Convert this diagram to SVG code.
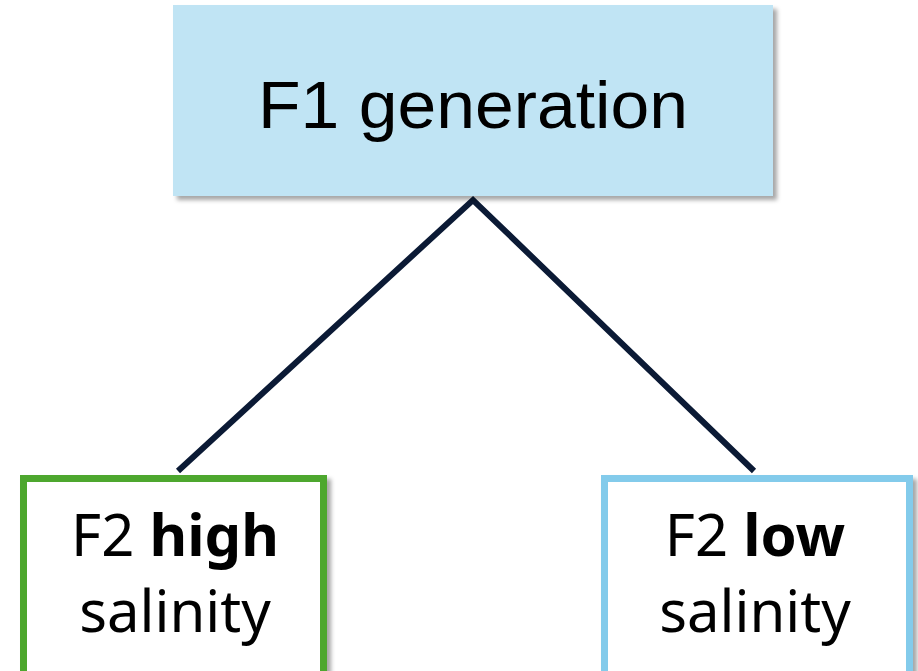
<svg xmlns="http://www.w3.org/2000/svg" width="918" height="671" viewBox="0 0 918 671">
<defs>
<style>
.lbl{font-family:"Noto Sans","Liberation Sans",sans-serif;font-size:58px;fill:#000;text-anchor:middle}
.b{font-weight:bold}
.edge{stroke:#0b1a35;stroke-width:6;fill:none}
</style>
<filter id="sh" x="-10%" y="-10%" width="130%" height="130%">
<feDropShadow dx="4" dy="4" stdDeviation="2" flood-color="#000" flood-opacity="0.35"/>
</filter>
</defs>
<rect width="918" height="671" fill="#fff"/>
<g id="connectors">
<path class="edge" d="M178,471 L473,200 L754,471"/>
</g>
<g id="f1">
<rect x="173" y="5" width="600" height="191" fill="#c0e4f4" filter="url(#sh)"/>
<text x="473" y="128" font-family="'Liberation Sans',sans-serif" font-size="67" text-anchor="middle" textLength="430" lengthAdjust="spacingAndGlyphs">F1 generation</text>
</g>
<g id="f2high">
<rect x="23.5" y="478.5" width="300" height="200" fill="#fff" stroke="#4ea72e" stroke-width="7" filter="url(#sh)"/>
<text class="lbl" x="175" y="556">F2 <tspan class="b">high</tspan></text>
<text class="lbl" x="175" y="632">salinity</text>
</g>
<g id="f2low">
<rect x="604.5" y="478.5" width="305" height="200" fill="#fff" stroke="#83cbeb" stroke-width="7" filter="url(#sh)"/>
<text class="lbl" x="755" y="556">F2 <tspan class="b">low</tspan></text>
<text class="lbl" x="755" y="632">salinity</text>
</g>
</svg>
